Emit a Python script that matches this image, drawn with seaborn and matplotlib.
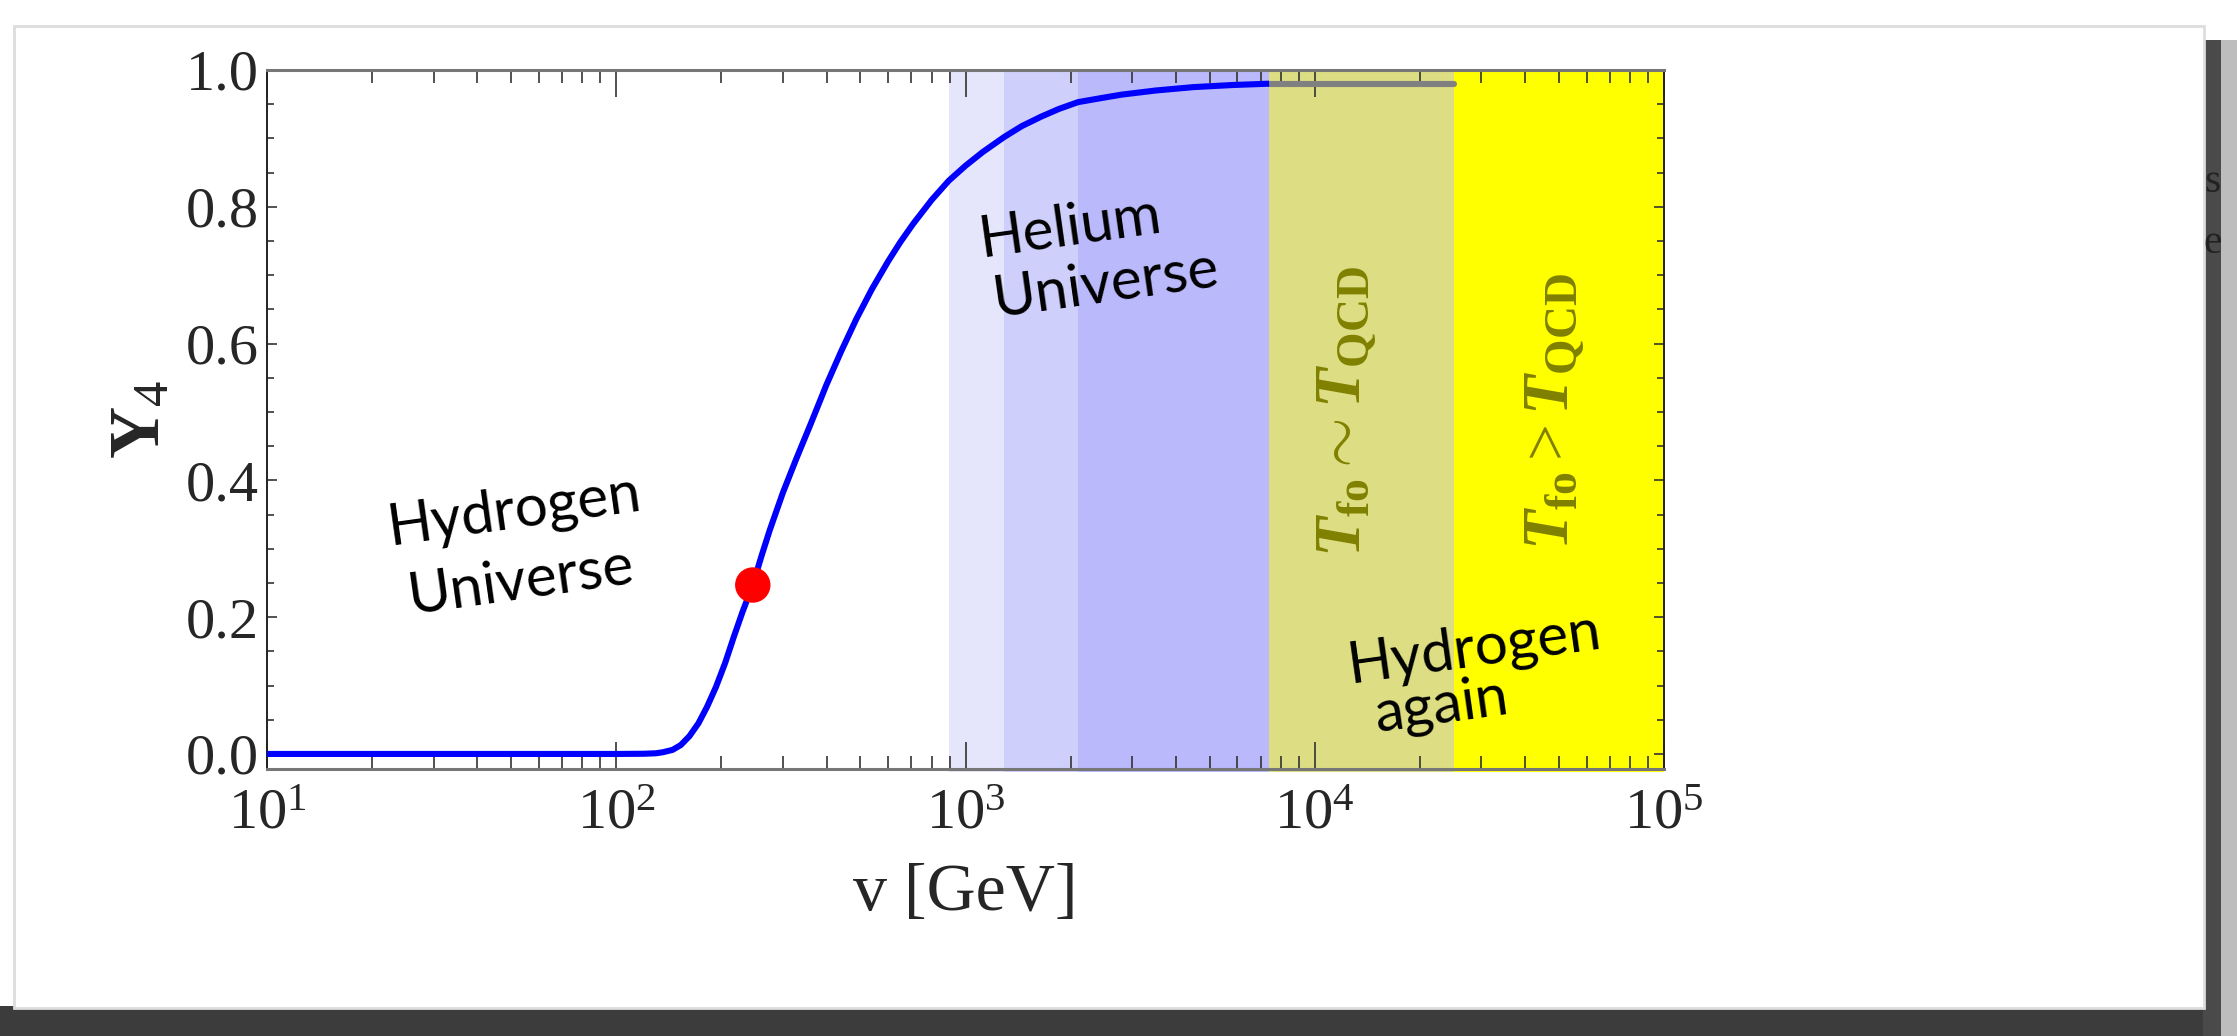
import matplotlib
matplotlib.use("Agg")
import matplotlib.pyplot as plt
from matplotlib.patches import Rectangle
from matplotlib.ticker import LogLocator, MultipleLocator, NullFormatter, FixedLocator, FixedFormatter
import seaborn as sns
import pandas as pd

# Helium mass fraction Y4 versus the Higgs vacuum expectation value v
v_gev = [10, 40, 100, 120, 130, 136, 145, 153, 162, 172, 182, 193, 205, 217, 230,
         246, 260, 275, 300, 328, 360, 400, 440, 487, 540, 600, 650, 708, 800, 895,
         1000, 1120, 1290, 1450, 1650, 1850, 2100, 2450, 2800, 3500, 4500, 5800, 7400]
y4 = [0.0, 0.0, 0.0, 0.0003, 0.001, 0.0025, 0.006, 0.013, 0.026, 0.045, 0.069, 0.098,
      0.133, 0.171, 0.208, 0.247, 0.288, 0.327, 0.382, 0.432, 0.482, 0.540, 0.588,
      0.636, 0.680, 0.720, 0.748, 0.775, 0.810, 0.838, 0.860, 0.880, 0.902, 0.918,
      0.932, 0.943, 0.953, 0.959, 0.964, 0.970, 0.975, 0.978, 0.980]

# plateau continued through the QCD freeze-out band
plateau_v = [7400, 25000]
plateau_y = [0.980, 0.980]

# our universe
v_ours = [246]
y_ours = [0.247]

# shaded regions in v
band_edges = [895, 1290, 2100, 7400, 25000, 100000]
band_colors = ["#e5e5fb", "#cfcffb", "#b9b9fb", "#dddd83", "#ffff00"]

x_ticks = [10, 100, 1000, 10000, 100000]
x_ticklabels = [r"$10^{1}$", r"$10^{2}$", r"$10^{3}$", r"$10^{4}$", r"$10^{5}$"]
y_ticks = [0.0, 0.2, 0.4, 0.6, 0.8, 1.0]
y_ticklabels = ["0.0", "0.2", "0.4", "0.6", "0.8", "1.0"]

sns.set_theme(style="ticks")
plt.rcParams["font.family"] = ["Liberation Serif", "DejaVu Serif"]
plt.rcParams["mathtext.fontset"] = "custom"
plt.rcParams["mathtext.rm"] = "Liberation Serif"
plt.rcParams["mathtext.it"] = "Liberation Serif:italic"
plt.rcParams["mathtext.bf"] = "Liberation Serif:bold"
plt.rcParams["mathtext.bfit"] = "Liberation Serif:italic:bold"

W, H = 2237, 1036
fig = plt.figure(figsize=(W / 100, H / 100), dpi=100)
fig.patch.set_facecolor("white")

# torn-paper sheet with its shadow
fig.patches.append(Rectangle((0, 0), W, 30, transform=None, facecolor="#3c3c3c", edgecolor="none", zorder=-10))
fig.patches.append(Rectangle((2203, 0), 18, H - 40, transform=None, facecolor="#4a4a4a", edgecolor="none", zorder=-10))
fig.patches.append(Rectangle((2221, 0), 16, H - 40, transform=None, facecolor="#bdbdbd", edgecolor="none", zorder=-10))
fig.patches.append(Rectangle((14, 28), 2190, 982, transform=None, facecolor="white",
                             edgecolor="#dddddd", linewidth=2, zorder=-9))
fig.text(2212 / W, 1 - 182 / H, "s", fontsize=30, color="#222222", ha="center", va="center")
fig.text(2213 / W, 1 - 243 / H, "e", fontsize=30, color="#222222", ha="center", va="center")

ax = fig.add_axes([267 / W, 1 - 769 / H, (1664 - 267) / W, (769 - 70) / H])
ax.set_facecolor("white")

for lo, hi, c in zip(band_edges[:-1], band_edges[1:], band_colors):
    ax.axvspan(lo, hi, ymin=-0.005, ymax=1, color=c, linewidth=0, zorder=0, clip_on=False)

curve = pd.DataFrame({"v": v_gev, "Y4": y4})
sns.lineplot(data=curve, x="v", y="Y4", ax=ax, color="#0000ff", linewidth=4.4,
             sort=False, zorder=3)
ax.lines[-1].set_solid_capstyle("butt")
sns.lineplot(x=plateau_v, y=plateau_y, ax=ax, color="#808080", linewidth=4.4, zorder=2)
sns.scatterplot(x=v_ours, y=y_ours, ax=ax, color="#ff0000", s=650, edgecolor="none", zorder=4)

ax.set_xscale("log")
ax.set_xlim(10, 1e5)
ax.set_ylim(-0.022, 1.0)

ax.xaxis.set_major_locator(FixedLocator(x_ticks))
ax.xaxis.set_major_formatter(FixedFormatter(x_ticklabels))
ax.xaxis.set_minor_locator(LogLocator(base=10, subs=range(2, 10)))
ax.xaxis.set_minor_formatter(NullFormatter())
ax.yaxis.set_major_locator(FixedLocator(y_ticks))
ax.yaxis.set_major_formatter(FixedFormatter(y_ticklabels))
ax.yaxis.set_minor_locator(MultipleLocator(0.05))

ax.tick_params(which="both", direction="in", top=True, right=True, color="#333333", width=1.2)
ax.tick_params(axis="x", which="major", length=19.5, labelsize=42, pad=14)
ax.tick_params(axis="x", which="minor", length=9.5)
ax.tick_params(axis="y", which="major", length=7.5, labelsize=42, pad=6)
ax.tick_params(axis="y", which="minor", length=5)

for side in ["top", "bottom"]:
    ax.spines[side].set_color("#777777")
    ax.spines[side].set_linewidth(2.2)
for side in ["left", "right"]:
    ax.spines[side].set_color("#222222")
    ax.spines[side].set_linewidth(1.4)

ax.set_xlabel("v [GeV]", fontsize=49, labelpad=16)
ax.set_ylabel(r"$\mathbf{Y}_4$", fontsize=52, labelpad=8)

# handwritten region labels
hand = dict(family="Lato", fontsize=42, color="black", ha="center", va="center", rotation=8)
fig.text(514 / W, 1 - 511 / H, "Hydrogen", **hand)
fig.text(521 / W, 1 - 582 / H, "Universe", **hand)
fig.text(1070 / W, 1 - 228 / H, "Helium", **hand)
fig.text(1106 / W, 1 - 285 / H, "Universe", **hand)
fig.text(1474 / W, 1 - 649 / H, "Hydrogen", **hand)
fig.text(1441 / W, 1 - 706 / H, "again", **hand)

olive = dict(fontsize=47, color="#808000", ha="center", va="center", rotation=90)
fig.text(1347 / W, 1 - 411 / H, r"$\mathbfit{T}_{\mathbf{fo}}\sim\mathbfit{T}_{\mathbf{QCD}}$", **olive)
fig.text(1555 / W, 1 - 411 / H, r"$\mathbfit{T}_{\mathbf{fo}}>\mathbfit{T}_{\mathbf{QCD}}$", **olive)

fig.savefig("out.png", dpi=100)
